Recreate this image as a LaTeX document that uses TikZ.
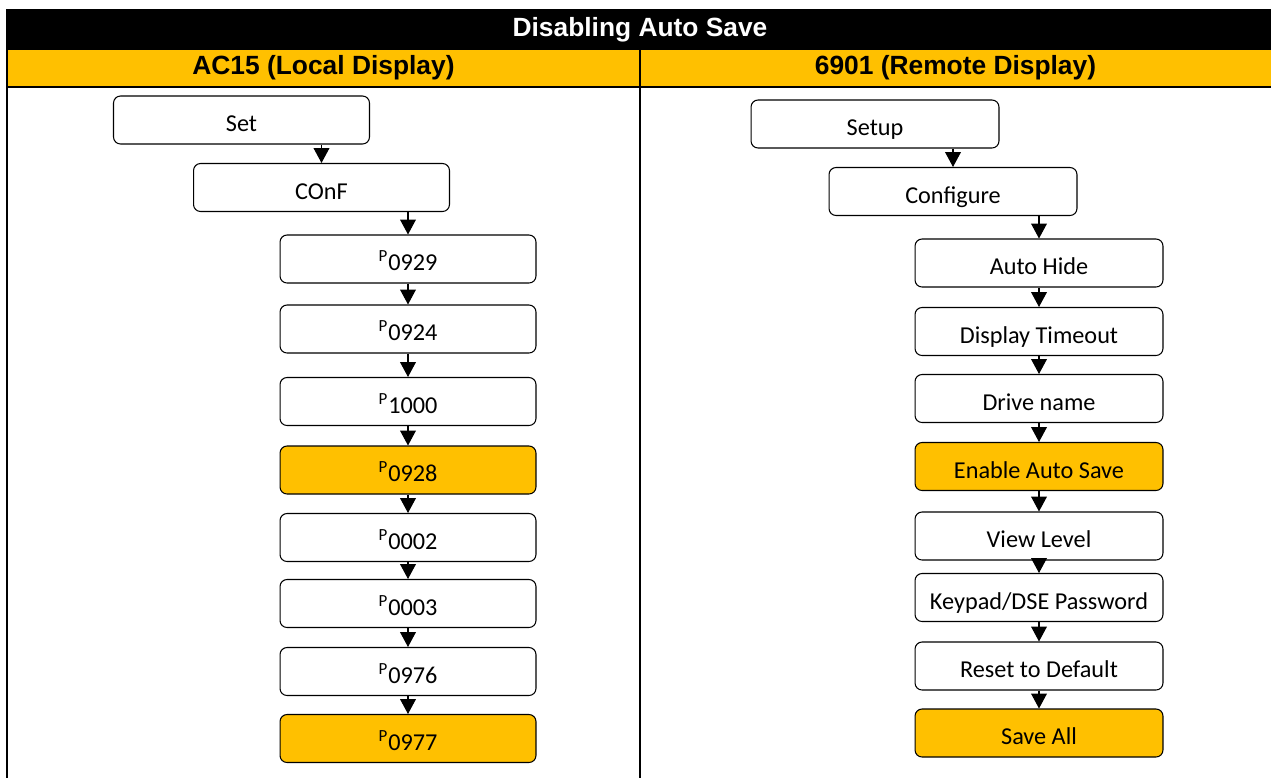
\documentclass[tikz,border=0pt]{standalone}
\usepackage{fontspec}
\setmainfont{Carlito}
\newfontfamily\headfont{Liberation Sans}
\usepackage{xcolor}
\definecolor{amber}{HTML}{FFC000}
\usetikzlibrary{arrows.meta}

\begin{document}
\begin{tikzpicture}[x=0.02cm,y=-0.02cm,
                    menu node/.style={rectangle,rounded corners=4pt,draw,line width=0.6pt,fill=white,
                                      minimum width=5.12cm,minimum height=0.96cm,inner sep=0pt,
                                      text height=2.8ex,text depth=0pt,
                                      font=\fontsize{13.8}{16}\selectfont},
                    right node/.style={menu node,minimum width=4.96cm},
                    hot/.style={fill=amber},
                    head/.style={font=\headfont\bfseries\fontsize{15}{18}\selectfont},
                    flow/.style={line width=0.6pt,-{Triangle[length=8.5pt,width=9pt]}}]
             \useasboundingbox (0,0) rectangle (1271,778);
             % table frame
             \fill[black] (7,9) rectangle (1271,50);
             \fill[amber] (7,50) rectangle (1271,86);
             \draw[line width=1.2pt] (7,87) -- (1271,87);
             \draw[line width=1.2pt] (7,9) -- (7,778);
             \draw[line width=1.2pt] (640,50) -- (640,778);
             \node[head,text=white] (T) at (640,29.5) {Disabling Auto Save};
             \node[head] (L) at (323.5,68) {AC15 (Local Display)};
             \node[head] (R) at (955.5,68) {6901 (Remote Display)};
             % AC15
             \node[menu node] (1) at (241.5,120) {Set};
             \node[menu node] (2) at (321.5,187.5) {COnF};
             \node[menu node] (3) at (408,259) {\textsuperscript{P}0929};
             \node[menu node] (4) at (408,329) {\textsuperscript{P}0924};
             \node[menu node] (5) at (408,401.5) {\textsuperscript{P}1000};
             \node[menu node,hot] (6) at (408,470) {\textsuperscript{P}0928};
             \node[menu node] (7) at (408,537.5) {\textsuperscript{P}0002};
             \node[menu node] (8) at (408,603.5) {\textsuperscript{P}0003};
             \node[menu node] (9) at (408,671.5) {\textsuperscript{P}0976};
             \node[menu node,hot] (10) at (408,738.5) {\textsuperscript{P}0977};
             % 6901
             \node[right node] (11) at (875,124) {Setup};
             \node[right node] (12) at (953,191.5) {Configure};
             \node[right node] (13) at (1039,263) {Auto Hide};
             \node[right node] (14) at (1039,331.5) {Display Timeout};
             \node[right node] (15) at (1039,398.5) {Drive name};
             \node[right node,hot] (16) at (1039,466.5) {Enable Auto Save};
             \node[right node] (17) at (1039,536) {View Level};
             \node[right node] (18) at (1039,597.5) {Keypad/DSE Password};
             \node[right node] (19) at (1039,666) {Reset to Default};
             \node[right node,hot] (20) at (1039,733) {Save All};
             \path[flow]%
               (1.south -| 2) edge (2)
               (2.south -| 3) edge (3)
               (3) edge (4)  (4) edge (5)  (5) edge (6)  (6) edge (7)
               (7) edge (8)  (8) edge (9)  (9) edge (10)
               (11.south -| 12) edge (12)
               (12.south -| 13) edge (13)
               (13) edge (14)  (14) edge (15)  (15) edge (16)  (16) edge (17)
               (17) edge (18)  (18) edge (19)  (19) edge (20);
           \end{tikzpicture}
\end{document}
